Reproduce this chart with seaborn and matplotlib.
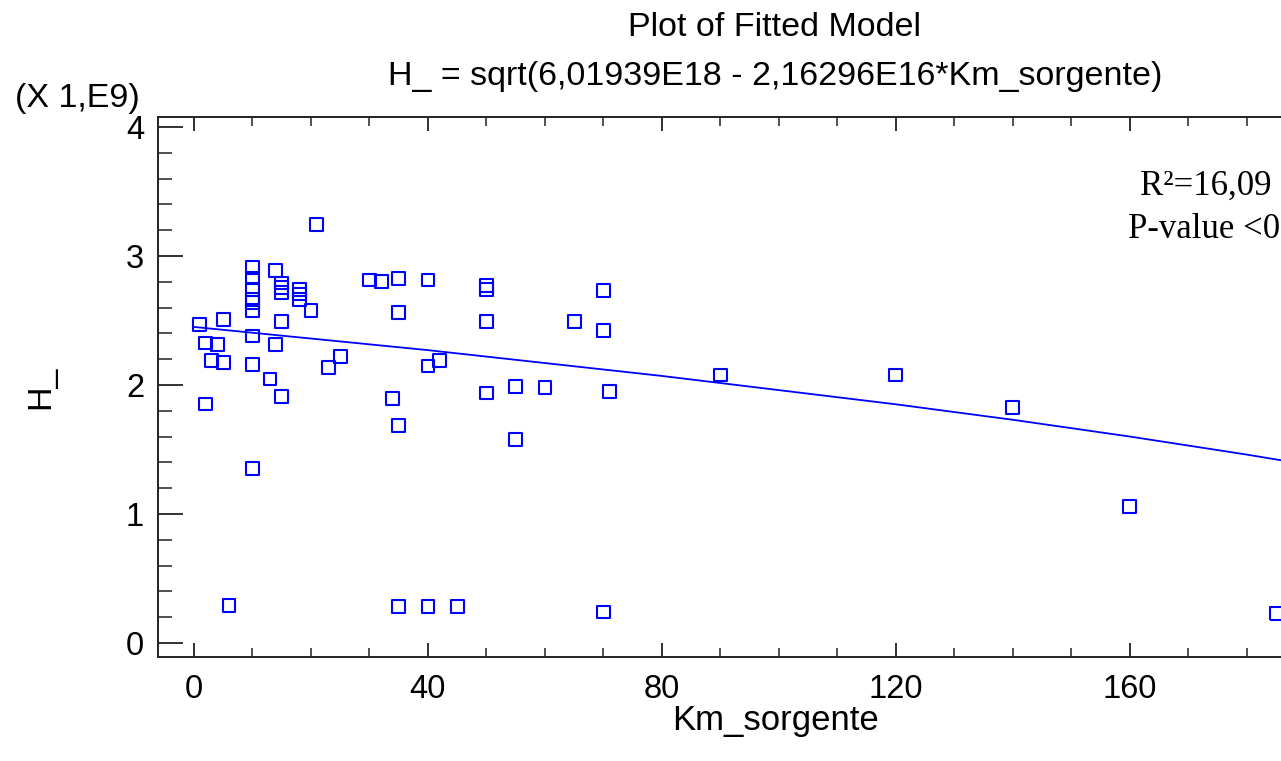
import numpy as np
import pandas as pd
import seaborn as sns
import matplotlib.pyplot as plt
from matplotlib.ticker import MultipleLocator, FixedLocator

# observed points (H_ in units of 1e9)
km = [1, 2, 2, 3, 4, 5, 5, 6,
      10, 10, 10, 10, 10, 10, 10, 10, 10,
      13, 14, 14, 15, 15, 15, 15, 15, 18, 18, 18, 20, 21, 23, 25,
      30, 32, 34, 35, 35, 35, 35, 40, 40, 40, 42, 45,
      50, 50, 50, 50, 55, 55, 60, 65, 70, 70, 70, 71,
      90, 120, 140, 160, 185]
h = [2.47, 2.325, 1.853, 2.19, 2.315, 2.51, 2.173, 0.29,
     2.91, 2.83, 2.74, 2.66, 2.64, 2.58, 2.38, 2.16, 1.354,
     2.047, 2.886, 2.315, 2.79, 2.757, 2.72, 2.49, 1.91, 2.74, 2.705, 2.66, 2.576, 3.245, 2.134, 2.22,
     2.814, 2.80, 1.894, 2.827, 2.56, 1.685, 0.28, 2.814, 2.147, 0.28, 2.188, 0.28,
     2.77, 2.74, 2.49, 1.938, 1.99, 1.576, 1.98, 2.49, 2.73, 2.42, 0.24, 1.95,
     2.078, 2.078, 1.824, 1.06, 0.225]

# fitted curve
fit_km = [0, 20, 40, 60, 80, 100, 120, 140, 160, 180, 200]
fit_h = [2.45, 2.36, 2.27, 2.17, 2.07, 1.96, 1.85, 1.73, 1.60, 1.46, 1.31]

x_major = [0, 40, 80, 120, 160]

title1 = "Plot of Fitted Model"
title2 = "H_ = sqrt(6,01939E18 - 2,16296E16*Km_sorgente)"

df = pd.DataFrame({"Km_sorgente": km, "H_": h})
df_fit = pd.DataFrame({"Km_sorgente": fit_km, "H_": fit_h})

sns.set_style("ticks")
plt.rcParams["font.family"] = ["Liberation Sans", "DejaVu Sans"]
plt.rcParams["text.color"] = "black"
plt.rcParams["axes.labelcolor"] = "black"

fig = plt.figure(figsize=(12.81, 7.61), dpi=100)
ax = fig.add_axes([0.1233, 0.1367, 0.9414, 0.7096])

sns.lineplot(data=df_fit, x="Km_sorgente", y="H_", color="#0000ff", lw=1.3, ax=ax)
sns.scatterplot(data=df, x="Km_sorgente", y="H_", marker="s", s=85,
                facecolor="none", edgecolor="#0000ff", linewidth=1.5, ax=ax)

ax.set_xlim(-6.15, 200)
ax.set_ylim(-0.109, 4.078)
ax.xaxis.set_major_locator(FixedLocator(x_major))
ax.xaxis.set_minor_locator(MultipleLocator(10))
ax.yaxis.set_major_locator(MultipleLocator(1))
ax.yaxis.set_minor_locator(MultipleLocator(0.2))

ax.tick_params(axis="both", which="both", direction="in", top=True, right=True,
               colors="#222222", labelcolor="black", labelsize=23.5)
ax.tick_params(axis="x", which="major", length=10, width=1.3, pad=12)
ax.tick_params(axis="x", which="minor", length=6.5, width=1.1)
ax.tick_params(axis="y", which="major", length=18, width=1.3, pad=10)
ax.tick_params(axis="y", which="minor", length=10, width=1.1)
for sp in ax.spines.values():
    sp.set_linewidth(1.4)
    sp.set_color("#222222")

ax.set_xlabel("Km_sorgente", fontsize=25)
ax.xaxis.set_label_coords(0.5124, -0.088)
ax.set_ylabel("H_", fontsize=24.5, labelpad=50)

fig.text(775 / 1281, 1 - 28 / 761, title1, ha="center", va="center", fontsize=24.5)
fig.text(775 / 1281, 1 - 76 / 761, title2, ha="center", va="center", fontsize=24.5)
fig.text(15 / 1281, 1 - 98 / 761, "(X 1,E9)", ha="left", va="center", fontsize=24.5)

fig.text(1140 / 1281, 1 - 186 / 761, "R²=16,09", ha="left", va="center",
         fontsize=25, family=["Liberation Serif", "DejaVu Serif"])
fig.text(1128 / 1281, 1 - 230 / 761, "P-value <0", ha="left", va="center",
         fontsize=25, family=["Liberation Serif", "DejaVu Serif"])

plt.savefig("out.png", dpi=100)
